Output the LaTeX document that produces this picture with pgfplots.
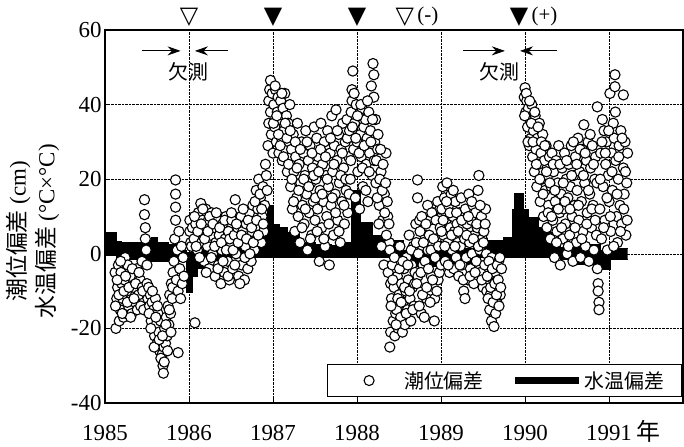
\documentclass[border=0pt]{standalone}
\usepackage{fontspec}
\setmainfont{Liberation Serif}
\newfontfamily\cjk{Noto Sans CJK JP}
\newfontfamily\sym{DejaVu Sans}
\usepackage{pgfplots}
\usepackage{pgfplotstable}
\pgfplotsset{compat=1.18}
\usepgfplotslibrary{fillbetween}
\usetikzlibrary{arrows.meta}
\pgfplotstableread[row sep=\\]{
1985.00 5.6\\ 1985.14 3.2\\ 1985.20 3.0\\ 1985.45 3.7\\ 1985.55 4.5\\ 1985.62 3.0\\ 1985.75 2.5\\ 1985.90 1.0\\ 1985.97 0.3\\ 1986.10 1.0\\ 1986.20 2.0\\ 1986.40 3.0\\ 1986.60 2.5\\ 1986.75 4.0\\ 1986.88 5.0\\ 1986.93 13.0\\ 1987.00 7.8\\ 1987.08 7.0\\ 1987.17 5.6\\ 1987.32 3.0\\ 1987.50 2.5\\ 1987.70 2.2\\ 1987.82 3.0\\ 1987.94 17.0\\ 1988.04 8.5\\ 1988.18 5.0\\ 1988.40 3.5\\ 1988.55 1.0\\ 1988.95 0.8\\ 1989.20 1.5\\ 1989.45 3.7\\ 1989.74 4.3\\ 1989.85 11.8\\ 1989.88 16.3\\ 1989.98 11.8\\ 1990.04 9.6\\ 1990.16 7.0\\ 1990.26 5.6\\ 1990.33 2.0\\ 1990.42 1.6\\ 1990.62 2.4\\ 1990.90 1.0\\ 1991.02 1.5\\ 1991.22 1.5\\
}\wtup
\pgfplotstableread[row sep=\\]{
1985.00 -0.5\\ 1985.14 -2.5\\ 1985.20 -1.5\\ 1985.50 -2.0\\ 1985.97 -10.5\\ 1986.04 -6.0\\ 1986.10 -4.0\\ 1986.20 -2.0\\ 1986.40 -1.0\\ 1988.40 -1.6\\ 1988.55 -3.5\\ 1989.20 -3.0\\ 1989.45 -1.0\\ 1990.42 -1.6\\ 1990.62 -3.0\\ 1990.90 -4.3\\ 1991.02 -1.6\\ 1991.22 -1.6\\
}\wtlo
\begin{document}
\begin{tikzpicture}
\begin{axis}[name=ax,
 scale only axis, width=578bp, height=373bp,
 xmin=1985, xmax=1991.88, ymin=-40, ymax=60,
 xtick={1985,...,1991}, ytick={-40,-20,...,60},
 /pgf/number format/assume math mode=true,
 /pgf/number format/1000 sep={},
 tick label style={font=\fontsize{23}{25}\selectfont},
 xticklabel style={yshift=-19bp},
 grid=major, grid style={densely dotted, black, line width=0.6bp},
 axis line style={line width=1.4bp},
 tick style={black, line width=0.8bp}, major tick length=5bp,
 tick align=inside, xtick pos=bottom, ytick pos=left,
 clip=false,
 ylabel={{\cjk 潮位偏差} (cm)\\{\cjk 水温偏差} (°C×°C)},
 ylabel style={align=center, font=\fontsize{23}{29}\selectfont, at={(axis description cs:-0.073,0.46)}, anchor=south},
 legend style={at={(rel axis cs:0.998,0.016)}, anchor=south east, legend columns=2, draw=black, line width=0.7bp, fill=white, font=\cjk\fontsize{20}{24}\selectfont, inner xsep=15bp, inner ysep=4bp, nodes={inner xsep=2bp, inner ysep=3bp}, /tikz/column sep=0bp, /tikz/every even column/.append style={column sep=26bp}},
 legend cell align=left,
]
\addplot[name path=U, const plot, draw=black, line width=1bp, forget plot] table {\wtup};
\addplot[name path=L, const plot, draw=black, line width=1bp, forget plot] table {\wtlo};
\addplot[black, forget plot] fill between[of=U and L];
\addplot[only marks, mark=*, mark size=5.1bp, mark options={fill=white, draw=black, line width=1.1bp},
 legend image code/.code={\path[draw=none, fill=none] (0bp,-4bp) rectangle (60bp,4bp); \draw[black, fill=white, line width=1.1bp] (27bp,0bp) circle[radius=5bp];}] table[row sep=\\]{
1985.12 -5\\ 1985.13 -20\\ 1985.14 -12\\ 1985.15 -9\\ 1985.16 -3\\ 1985.17 -18\\ 1985.18 -15\\ 1985.19 -5\\ 1985.20 -8\\ 1985.21 -12\\ 1985.22 -17\\ 1985.23 -7\\ 1985.24 -1\\ 1985.25 -16\\ 1985.26 -10\\ 1985.27 -3\\ 1985.28 -14\\ 1985.30 -6\\ 1985.32 -16\\ 1985.34 -9\\ 1985.36 -13\\ 1985.38 -4\\ 1985.40 -11\\ 1985.42 -7\\ 1985.44 -2\\
1985.125 -14\\ 1985.145 -7\\ 1985.165 -11\\ 1985.185 -2\\ 1985.205 -16\\ 1985.225 -10\\ 1985.245 -6\\ 1985.265 -13\\ 1985.285 -9\\ 1985.305 -17\\ 1985.325 -4\\ 1985.345 -12\\ 1985.365 -8\\ 1985.385 -15\\ 1985.405 -5\\ 1985.425 -14\\ 1985.445 -9\\
1985.47 14.5\\ 1985.47 10.5\\ 1985.48 7\\ 1985.48 4\\ 1985.49 1\\ 1985.50 -3\\ 1985.50 -8\\ 1985.51 -12\\ 1985.46 -15\\ 1985.45 -10\\
1985.52 -9\\ 1985.53 -14\\ 1985.54 -11\\ 1985.55 -18\\ 1985.56 -13\\ 1985.57 -20\\ 1985.58 -15\\ 1985.59 -22\\ 1985.60 -12\\ 1985.61 -19\\ 1985.62 -24\\ 1985.63 -16\\ 1985.64 -21\\ 1985.65 -26\\ 1985.66 -18\\ 1985.67 -23\\ 1985.68 -27\\ 1985.69 -30\\ 1985.695 -32\\ 1985.70 -25\\ 1985.71 -20\\ 1985.72 -24\\ 1985.73 -17\\ 1985.74 -22\\ 1985.75 -14\\ 1985.76 -19\\ 1985.77 -11\\ 1985.78 -16\\ 1985.79 -8\\ 1985.80 -12\\ 1985.81 -5\\
1985.525 -16\\ 1985.545 -20\\ 1985.565 -10\\ 1985.585 -25\\ 1985.605 -17\\ 1985.625 -14\\ 1985.645 -23\\ 1985.665 -28\\ 1985.685 -22\\ 1985.705 -29\\ 1985.725 -19\\ 1985.745 -26\\ 1985.765 -15\\ 1985.785 -21\\ 1985.805 -9\\
1985.82 -2\\ 1985.83 4\\ 1985.84 19.8\\ 1985.84 16\\ 1985.84 12.5\\ 1985.84 9\\ 1985.85 -7\\ 1985.86 1\\ 1985.87 -26.5\\ 1985.87 -10\\ 1985.88 6\\ 1985.89 -4\\ 1985.90 -12\\ 1985.91 2\\ 1985.92 -8\\ 1985.93 -1\\ 1985.94 -6\\
1986.01 9\\ 1986.01 6\\ 1986.02 3\\ 1986.03 2\\ 1986.04 7\\ 1986.07 -18.5\\
1986.06 4\\ 1986.08 8\\ 1986.10 1\\ 1986.11 11\\ 1986.12 6\\ 1986.14 13.5\\ 1986.15 3\\ 1986.16 9\\ 1986.18 -2\\ 1986.19 7\\ 1986.20 12\\ 1986.22 2\\ 1986.23 9\\ 1986.24 -4\\ 1986.26 5\\ 1986.27 11\\ 1986.28 0\\ 1986.30 7\\ 1986.31 -6\\ 1986.32 3\\ 1986.34 9\\ 1986.35 -3\\ 1986.36 5\\ 1986.38 -8\\ 1986.39 1\\ 1986.40 8\\ 1986.42 -5\\ 1986.43 4\\ 1986.44 10\\ 1986.46 -2\\ 1986.47 6\\ 1986.48 -7\\ 1986.50 2\\
1986.065 10\\ 1986.085 2\\ 1986.105 6\\ 1986.125 -1\\ 1986.145 8\\ 1986.165 12\\ 1986.185 4\\ 1986.205 -5\\ 1986.225 6\\ 1986.245 10\\ 1986.265 -1\\ 1986.285 8\\ 1986.305 2\\ 1986.325 11\\ 1986.345 -4\\ 1986.365 7\\ 1986.385 3\\ 1986.405 -2\\ 1986.425 9\\ 1986.445 1\\ 1986.465 -6\\ 1986.485 4\\
1986.51 9\\ 1986.52 -4\\ 1986.54 5\\ 1986.55 14.5\\ 1986.56 0\\ 1986.58 7\\ 1986.59 -6\\ 1986.60 3\\ 1986.62 10\\ 1986.63 -3\\ 1986.64 6\\ 1986.66 -7\\ 1986.67 2\\ 1986.68 8\\ 1986.70 -4\\ 1986.71 4\\ 1986.72 11\\ 1986.74 -2\\ 1986.75 6\\ 1986.76 13\\ 1986.78 1\\ 1986.79 8\\ 1986.80 17\\ 1986.81 4\\ 1986.82 12\\ 1986.83 20\\ 1986.84 7\\ 1986.85 15\\ 1986.86 3\\ 1986.87 10\\ 1986.88 18\\ 1986.89 6\\ 1986.90 13\\
1986.505 11\\ 1986.525 1\\ 1986.545 -3\\ 1986.565 8\\ 1986.585 3\\ 1986.605 -8\\ 1986.625 5\\ 1986.645 12\\ 1986.665 -1\\ 1986.685 4\\ 1986.705 9\\ 1986.725 0\\ 1986.745 7\\ 1986.765 3\\ 1986.785 14\\ 1986.805 9\\ 1986.825 5\\ 1986.845 16\\ 1986.865 12\\ 1986.885 8\\
1986.91 24\\ 1986.92 21\\ 1986.93 17\\ 1986.94 29\\ 1986.95 35\\ 1986.95 41\\ 1986.96 44\\ 1986.97 46.5\\ 1986.97 38\\ 1986.98 32\\ 1986.99 43\\ 1987.00 27\\
1987.01 40\\ 1987.02 34\\ 1987.03 44\\ 1987.04 30\\ 1987.05 38\\ 1987.06 42\\ 1987.07 27\\ 1987.08 36\\ 1987.09 41\\ 1987.10 31\\ 1987.11 25\\ 1987.12 39\\ 1987.13 33\\ 1987.14 43\\ 1987.15 28\\ 1987.16 37\\ 1987.17 22\\ 1987.18 35\\ 1987.19 30\\ 1987.20 40\\
1987.21 18\\ 1987.22 28\\ 1987.23 12\\ 1987.24 32\\ 1987.25 22\\ 1987.26 6\\ 1987.27 26\\ 1987.28 15\\ 1987.29 35\\ 1987.30 10\\ 1987.31 24\\ 1987.32 3\\ 1987.33 19\\ 1987.34 30\\ 1987.35 13\\ 1987.36 27\\ 1987.37 8\\ 1987.38 21\\ 1987.39 33\\ 1987.40 16\\ 1987.41 1\\ 1987.42 25\\ 1987.43 11\\ 1987.44 29\\ 1987.45 19\\ 1987.46 5\\ 1987.47 23\\ 1987.48 14\\ 1987.49 34\\ 1987.50 9\\
1987.51 20\\ 1987.52 31\\ 1987.53 12\\ 1987.54 26\\ 1987.55 -2\\ 1987.56 17\\ 1987.57 35\\ 1987.58 7\\ 1987.59 24\\ 1987.60 14\\ 1987.61 30\\ 1987.62 2\\ 1987.63 21\\ 1987.64 10\\ 1987.65 33\\ 1987.66 18\\ 1987.67 -3\\ 1987.68 27\\ 1987.69 13\\ 1987.70 37\\ 1987.71 22\\ 1987.72 5\\ 1987.73 29\\ 1987.74 16\\ 1987.75 38.6\\ 1987.76 25\\ 1987.77 9\\ 1987.78 32\\ 1987.79 19\\ 1987.80 3\\ 1987.81 28\\ 1987.82 14\\ 1987.83 35\\ 1987.84 23\\ 1987.85 8\\ 1987.86 30\\ 1987.87 17\\ 1987.88 36\\ 1987.89 11\\ 1987.90 26\\
1987.005 35\\ 1987.025 45\\ 1987.045 37\\ 1987.065 32\\ 1987.085 29\\ 1987.105 43\\ 1987.125 26\\ 1987.145 35\\ 1987.165 31\\ 1987.185 24\\ 1987.205 33\\ 1987.225 20\\ 1987.245 14\\ 1987.265 30\\ 1987.285 23\\ 1987.305 17\\ 1987.325 28\\ 1987.345 7\\ 1987.365 20\\ 1987.385 12\\ 1987.405 30\\ 1987.425 18\\ 1987.445 4\\ 1987.465 27\\ 1987.485 21\\ 1987.505 15\\ 1987.525 6\\ 1987.545 22\\ 1987.565 28\\ 1987.585 16\\ 1987.605 4\\ 1987.625 26\\ 1987.645 20\\ 1987.665 8\\ 1987.685 31\\ 1987.705 15\\ 1987.725 24\\ 1987.745 11\\ 1987.765 33\\ 1987.785 6\\ 1987.805 21\\ 1987.825 27\\ 1987.845 13\\ 1987.865 20\\ 1987.885 31\\ 1987.905 16\\
1987.91 33\\ 1987.92 20\\ 1987.93 38\\ 1987.94 44\\ 1987.94 41\\ 1987.95 49\\ 1987.96 28\\ 1987.97 35\\ 1987.98 15\\ 1987.99 40\\ 1988.00 30\\ 1988.01 22\\ 1988.02 37\\ 1988.03 12\\ 1988.04 32\\ 1988.05 26\\ 1988.06 39\\ 1988.07 18\\ 1988.08 34\\ 1988.09 28\\ 1988.10 36\\ 1988.11 24\\ 1988.12 31\\ 1988.13 14\\ 1988.14 38\\ 1988.15 27\\ 1988.16 33\\ 1988.17 45\\ 1988.18 21\\ 1988.19 51\\ 1988.20 48\\ 1988.20 42\\ 1988.21 30\\ 1988.22 36\\
1987.925 25\\ 1987.945 34\\ 1987.965 43\\ 1987.985 31\\ 1988.005 37\\ 1988.025 27\\ 1988.045 40\\ 1988.065 23\\ 1988.085 29\\ 1988.105 17\\ 1988.125 41\\ 1988.145 22\\ 1988.165 30\\ 1988.185 36\\ 1988.205 25\\ 1988.225 19\\ 1988.245 28\\ 1988.265 13\\ 1988.285 22\\ 1988.305 9\\ 1988.325 16\\ 1988.345 27\\ 1988.365 10\\ 1988.385 3\\
1988.23 25\\ 1988.24 15\\ 1988.25 32\\ 1988.26 8\\ 1988.27 20\\ 1988.28 28\\ 1988.29 2\\ 1988.30 17\\ 1988.31 24\\ 1988.32 -3\\ 1988.33 11\\ 1988.34 19\\ 1988.35 5\\ 1988.36 14\\ 1988.37 -5\\ 1988.38 8\\ 1988.39 -25\\ 1988.40 -21\\ 1988.39 1\\ 1988.40 -8\\
1988.41 -12\\ 1988.42 -3\\ 1988.43 -18\\ 1988.44 -9\\ 1988.45 -22\\ 1988.46 -16\\ 1988.47 -15\\ 1988.48 -6\\ 1988.49 -20\\ 1988.50 -11\\ 1988.51 2\\ 1988.52 -17\\ 1988.53 -8\\ 1988.54 -21\\ 1988.55 -13\\ 1988.56 -4\\ 1988.57 -19\\ 1988.58 -10\\ 1988.59 -1\\ 1988.60 -15\\ 1988.61 -7\\ 1988.62 5\\ 1988.63 -12\\ 1988.64 -18\\ 1988.65 -3\\ 1988.66 -9\\ 1988.67 2\\ 1988.68 -14\\ 1988.69 -5\\ 1988.70 8\\
1988.405 -14\\ 1988.425 -7\\ 1988.445 -1\\ 1988.465 -19\\ 1988.485 -12\\ 1988.505 -4\\ 1988.525 -13\\ 1988.545 -2\\ 1988.565 -9\\ 1988.585 -16\\ 1988.605 -3\\ 1988.625 -10\\ 1988.645 1\\ 1988.665 -15\\ 1988.685 -8\\ 1988.705 3\\ 1988.725 -6\\ 1988.745 9\\ 1988.765 -16\\ 1988.785 -3\\ 1988.805 5\\ 1988.825 -12\\ 1988.845 1\\ 1988.865 9\\ 1988.885 -6\\ 1988.905 11\\ 1988.925 -12\\ 1988.945 4\\ 1988.965 -7\\ 1988.985 12\\
1988.71 -8\\ 1988.72 19.8\\ 1988.72 15\\ 1988.73 0\\ 1988.74 -14\\ 1988.75 6\\ 1988.76 -5\\ 1988.77 10\\ 1988.78 -11\\ 1988.79 3\\ 1988.80 -17\\ 1988.81 -2\\ 1988.82 8\\ 1988.83 -9\\ 1988.84 13\\ 1988.85 -4\\ 1988.86 5\\ 1988.87 -13\\ 1988.88 1\\ 1988.89 11\\ 1988.90 -7\\ 1988.91 4\\ 1988.92 -18\\ 1988.93 -1\\ 1988.94 9\\ 1988.95 -10\\ 1988.96 14\\ 1988.97 2\\ 1988.98 -5\\ 1988.99 7\\ 1989.00 -3\\
1989.01 12\\ 1989.02 18\\ 1989.03 5\\ 1989.04 15\\ 1989.05 -2\\ 1989.06 9\\ 1989.07 19\\ 1989.08 3\\ 1989.09 13\\ 1989.10 -5\\ 1989.11 7\\ 1989.12 16\\ 1989.13 1\\ 1989.14 10\\ 1989.15 -4\\ 1989.16 6\\ 1989.17 14\\ 1989.18 -1\\ 1989.19 8\\ 1989.20 3\\
1989.21 -6\\ 1989.22 11\\ 1989.23 2\\ 1989.24 15\\ 1989.25 -3\\ 1989.26 7\\ 1989.27 -10\\ 1989.28 4\\ 1989.29 12\\ 1989.30 -1\\ 1989.31 8\\ 1989.32 -7\\ 1989.33 16\\ 1989.34 3\\ 1989.35 -4\\ 1989.36 9\\ 1989.37 0\\ 1989.38 13\\ 1989.39 -8\\ 1989.40 5\\ 1989.41 11\\ 1989.42 -2\\ 1989.43 7\\ 1989.44 17\\ 1989.45 21\\ 1989.46 1\\ 1989.47 -5\\ 1989.48 10\\ 1989.49 4\\ 1989.50 -9\\ 1989.51 6\\ 1989.52 -3\\ 1989.53 12\\ 1989.54 0\\
1989.005 6\\ 1989.025 9\\ 1989.045 2\\ 1989.065 14\\ 1989.085 -3\\ 1989.105 11\\ 1989.125 5\\ 1989.145 17\\ 1989.165 2\\ 1989.185 11\\ 1989.205 6\\ 1989.225 -3\\ 1989.245 9\\ 1989.265 -7\\ 1989.285 -12\\ 1989.305 5\\ 1989.325 10\\ 1989.345 -6\\ 1989.365 14\\ 1989.385 4\\ 1989.405 -5\\ 1989.425 8\\ 1989.445 2\\ 1989.465 13\\ 1989.485 -7\\ 1989.505 3\\ 1989.525 8\\ 1989.545 -10\\ 1989.565 -6\\ 1989.585 -11\\ 1989.605 -1\\ 1989.625 -16\\ 1989.645 -5\\ 1989.665 -13\\ 1989.685 -2\\ 1989.705 -11\\
1989.55 -6\\ 1989.56 -12\\ 1989.57 -2\\ 1989.58 -15\\ 1989.59 -9\\ 1989.60 -18\\ 1989.61 -4\\ 1989.62 -13\\ 1989.63 -19.5\\ 1989.64 -8\\ 1989.65 -16\\ 1989.66 -11\\ 1989.67 -3\\ 1989.68 -7\\ 1989.69 -14\\ 1989.70 -1\\ 1989.71 -9\\ 1989.72 -4\\
1989.99 42\\ 1990.00 44.5\\ 1990.01 38\\ 1990.02 41\\ 1990.03 34\\ 1990.04 39\\ 1990.05 29\\ 1990.06 36\\ 1990.07 31\\ 1990.08 40\\ 1990.09 26\\ 1990.10 33\\ 1990.11 22\\ 1990.12 37\\ 1990.13 28\\ 1990.14 18\\ 1990.15 31\\ 1990.16 24\\ 1990.17 35\\ 1990.18 14\\ 1990.19 27\\ 1990.20 20\\ 1990.21 32\\ 1990.22 10\\ 1990.23 25\\ 1990.24 17\\ 1990.25 29\\ 1990.26 7\\ 1990.27 21\\ 1990.28 13\\ 1990.29 26\\ 1990.30 4\\
1990.31 18\\ 1990.32 27\\ 1990.33 9\\ 1990.34 22\\ 1990.35 -1\\ 1990.36 14\\ 1990.37 25\\ 1990.38 6\\ 1990.39 19\\ 1990.40 29\\ 1990.41 11\\ 1990.42 -3\\ 1990.43 16\\ 1990.44 23\\ 1990.45 4\\ 1990.46 12\\ 1990.47 27\\ 1990.48 8\\ 1990.49 20\\ 1990.50 0\\ 1990.51 15\\ 1990.52 24\\ 1990.53 5\\ 1990.54 18\\ 1990.55 29\\ 1990.56 10\\ 1990.57 -2\\ 1990.58 21\\ 1990.59 13\\ 1990.60 26\\
1990.61 3\\ 1990.62 17\\ 1990.63 31\\ 1990.64 9\\ 1990.65 22\\ 1990.66 -1\\ 1990.67 14\\ 1990.68 28\\ 1990.69 6\\ 1990.70 34.6\\ 1990.71 19\\ 1990.72 2\\ 1990.73 25\\ 1990.74 11\\ 1990.75 30\\ 1990.76 -2\\ 1990.77 16\\ 1990.78 23\\ 1990.79 7\\ 1990.80 29\\ 1990.81 13\\ 1990.82 1\\ 1990.83 20\\ 1990.84 26\\ 1990.85 5\\ 1990.86 39.4\\
1989.995 37\\ 1990.015 43\\ 1990.035 30\\ 1990.055 41\\ 1990.075 35\\ 1990.095 30\\ 1990.115 38\\ 1990.135 24\\ 1990.155 34\\ 1990.175 20\\ 1990.195 30\\ 1990.215 16\\ 1990.235 29\\ 1990.255 22\\ 1990.275 11\\ 1990.295 19\\ 1990.315 10\\ 1990.335 24\\ 1990.355 17\\ 1990.375 3\\ 1990.395 12\\ 1990.415 24\\ 1990.435 7\\ 1990.455 19\\ 1990.475 14\\ 1990.495 25\\ 1990.515 2\\ 1990.535 12\\ 1990.555 21\\ 1990.575 30\\ 1990.595 7\\ 1990.615 24\\ 1990.635 13\\ 1990.655 28\\ 1990.675 4\\ 1990.695 21\\ 1990.715 27\\ 1990.735 8\\ 1990.755 17\\ 1990.775 32\\ 1990.795 12\\ 1990.815 24\\ 1990.835 9\\ 1990.855 19\\
1990.86 -4\\ 1990.87 -8\\ 1990.87 -10\\ 1990.88 -13\\ 1990.88 -15\\
1990.89 12\\ 1990.90 27\\ 1990.91 4\\ 1990.92 36\\ 1990.93 18\\ 1990.94 33\\ 1990.95 9\\ 1990.96 24\\ 1990.97 30\\ 1990.98 1\\ 1990.99 21\\ 1991.00 14\\ 1991.01 43\\ 1991.02 6\\ 1991.03 27\\ 1991.04 17\\ 1991.05 35\\ 1991.06 31\\ 1991.07 48\\ 1991.07 44.8\\ 1991.08 25\\ 1991.09 10\\ 1991.10 3\\ 1991.11 20\\ 1991.12 29\\ 1991.13 13\\ 1991.14 33\\ 1991.15 8\\ 1991.17 42.6\\ 1991.17 23\\ 1991.18 16\\ 1991.19 30\\ 1991.20 5\\ 1991.21 19\\ 1991.22 27\\
1990.895 20\\ 1990.915 30\\ 1990.935 7\\ 1990.955 27\\ 1990.975 15\\ 1990.995 33\\ 1991.015 10\\ 1991.035 22\\ 1991.055 2\\ 1991.075 38\\ 1991.095 16\\ 1991.115 26\\ 1991.135 6\\ 1991.155 31\\ 1991.175 12\\ 1991.195 22\\ 1991.215 9\\
};
\addlegendentry{潮位偏差}
\addlegendimage{legend image code/.code={\draw[black, line width=7bp] (0bp,0bp) -- (64bp,0bp);}}
\addlegendentry{水温偏差}
% annotations
\node[font=\sym\fontsize{24}{24}\selectfont, anchor=base, yshift=6bp] at (axis cs:1986,60) {▽};
\node[font=\sym\fontsize{24}{24}\selectfont, anchor=base, yshift=6bp] at (axis cs:1987,60) {▼};
\node[font=\sym\fontsize{24}{24}\selectfont, anchor=base, yshift=6bp] at (axis cs:1988,60) {▼};
\node[font=\sym\fontsize{24}{24}\selectfont, anchor=base, yshift=6bp] at (axis cs:1988.57,60) {▽};
\node[font=\fontsize{21}{21}\selectfont, anchor=base west, yshift=8bp, xshift=9bp] at (axis cs:1988.57,60) {(-)};
\node[font=\sym\fontsize{24}{24}\selectfont, anchor=base, yshift=6bp] at (axis cs:1989.93,60) {▼};
\node[font=\fontsize{21}{21}\selectfont, anchor=base west, yshift=8bp, xshift=9bp] at (axis cs:1989.93,60) {(+)};
\draw[-{Stealth[length=13bp,width=9bp]}, line width=0.8bp] (axis cs:1985.44,54.4) -- (axis cs:1985.90,54.4);
\draw[-{Stealth[length=13bp,width=9bp]}, line width=0.8bp] (axis cs:1986.46,54.4) -- (axis cs:1986.07,54.4);
\node[font=\cjk\fontsize{20}{20}\selectfont] at (axis cs:1985.99,48.8) {欠測};
\draw[-{Stealth[length=13bp,width=9bp]}, line width=0.8bp] (axis cs:1989.26,54.4) -- (axis cs:1989.76,54.4);
\draw[-{Stealth[length=13bp,width=9bp]}, line width=0.8bp] (axis cs:1990.38,54.4) -- (axis cs:1989.94,54.4);
\node[font=\cjk\fontsize{20}{20}\selectfont] at (axis cs:1989.70,48.8) {欠測};
\node[font=\cjk\fontsize{24}{24}\selectfont, anchor=base west, yshift=-37bp] at (axis cs:1991.28,-40) {年};
\end{axis}
\pgfresetboundingbox
\path ([xshift=-105bp,yshift=-43bp]ax.south west) rectangle ([xshift=1bp,yshift=30bp]ax.north east);
\end{tikzpicture}
\end{document}
